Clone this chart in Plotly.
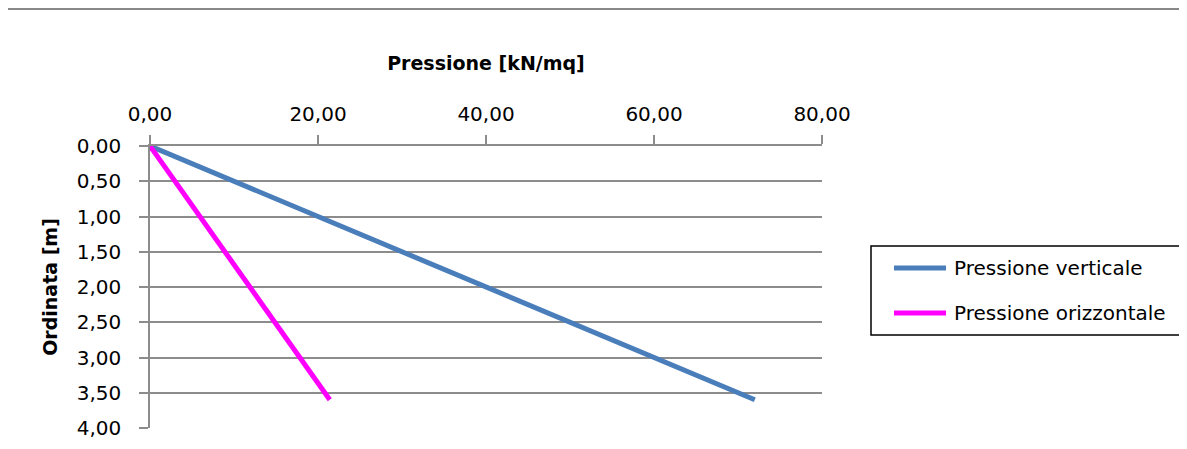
import plotly.graph_objects as go

# Data
depth = [0.0, 3.6]
p_vert = [0.0, 72.0]
p_oriz = [0.0, 21.4]
series_names = ["Pressione verticale", "Pressione orizzontale"]
series_colors = ["#4a7ebb", "#ff00ff"]
x_ticks = [0, 20, 40, 60, 80]
y_ticks = [0, 0.5, 1.0, 1.5, 2.0, 2.5, 3.0, 3.5, 4.0]

FONT = "DejaVu Sans"
GRID = "#8c8c8c"

# page offset of 8px (body margin) is compensated in size/margins
W, H = 1179, 433
L, R, T, B = 142, 365, 138, 13
PW, PH = W - L - R, H - T - B

def px(x):
    return (x - 8 - L) / PW

def py(y):
    return (H - B - (y - 8)) / PH

fig = go.Figure()
for xs, name, col in zip([p_vert, p_oriz], series_names, series_colors):
    fig.add_trace(go.Scatter(x=xs, y=depth, mode="lines", name=name,
                             line=dict(color=col, width=5), showlegend=False))

shapes = [
    dict(type="line", xref="paper", yref="paper", x0=px(0), x1=px(1187), y0=py(9), y1=py(9),
         line=dict(color="#888888", width=2)),
    dict(type="rect", xref="paper", yref="paper", x0=px(871), x1=px(1184), y0=py(246), y1=py(335),
         line=dict(color="black", width=1.5), fillcolor="white"),
]
annotations = []
leg_y = [268, 313]
for name, col, yy in zip(series_names, series_colors, leg_y):
    shapes.append(dict(type="line", xref="paper", yref="paper", x0=px(894), x1=px(946),
                       y0=py(yy), y1=py(yy), line=dict(color=col, width=5)))
    annotations.append(dict(xref="paper", yref="paper", x=px(952), y=py(yy), text=name,
                            showarrow=False, xanchor="left", yanchor="middle",
                            font=dict(family=FONT, size=20, color="black")))

fig.update_layout(
    width=W, height=H,
    margin=dict(l=L, r=R, t=T, b=B, autoexpand=False),
    paper_bgcolor="white", plot_bgcolor="white",
    separators=",.",
    font=dict(family=FONT, size=20, color="black"),
    showlegend=False,
    xaxis=dict(side="top", range=[0, 80], tickvals=x_ticks, tickformat=".2f",
               showgrid=False, zeroline=False, showline=True, linecolor=GRID, linewidth=1.5,
               ticks="outside", ticklen=9, tickcolor=GRID, tickwidth=1.5, ticklabelstandoff=6,
               title=dict(text="<b>Pressione [kN/mq]</b>", standoff=27,
                          font=dict(family=FONT, size=19))),
    yaxis=dict(range=[4, 0], tickvals=y_ticks, tickformat=".2f",
               showgrid=True, gridcolor=GRID, gridwidth=1.5, zeroline=False,
               showline=True, linecolor=GRID, linewidth=1.5,
               ticks="outside", ticklen=9, tickcolor=GRID, tickwidth=1.5, ticklabelstandoff=14,
               title=dict(text="<b>Ordinata [m]</b>", standoff=14,
                          font=dict(family=FONT, size=19))),
    shapes=shapes,
    annotations=annotations,
)

fig.write_html("out.html")
